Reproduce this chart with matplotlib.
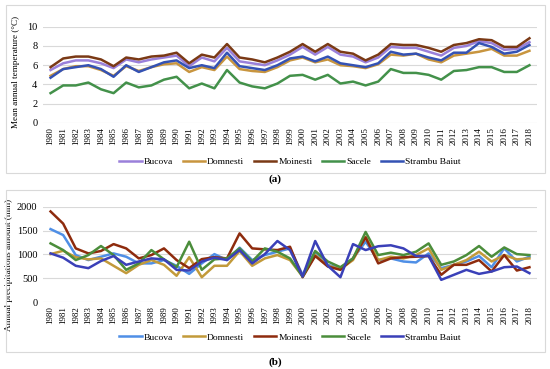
import matplotlib.pyplot as plt
from matplotlib.patches import Rectangle

# Dados
anos = list(range(1980, 2019))
estacoes = ['Bucova', 'Domnesti', 'Moinesti', 'Sacele', 'Strambu Baiut']

# Temperatura media anual (°C)
temp_bucova = [5.5, 6.2, 6.5, 6.5, 6.2, 5.7, 6.6, 6.3, 6.6, 6.8, 7.0, 5.9, 6.8, 6.4, 7.8, 6.4, 6.2, 6.0, 6.5, 7.1,
               7.9, 7.1, 7.9, 7.1, 6.9, 6.3, 6.8, 7.9, 7.8, 7.8, 7.4, 7.0, 7.8, 8.0, 8.5, 8.3, 7.6, 7.7, 8.4]
temp_domnesti = [4.9, 5.6, 5.9, 5.9, 5.5, 4.9, 5.9, 5.4, 5.8, 6.1, 6.2, 5.3, 5.8, 5.5, 6.9, 5.6, 5.4, 5.3, 5.8, 6.5,
                 6.8, 6.3, 6.6, 6.0, 5.9, 5.7, 6.1, 7.1, 7.0, 7.2, 6.6, 6.3, 7.0, 7.2, 7.4, 7.7, 7.0, 7.0, 7.5]
temp_moinesti = [5.8, 6.7, 6.9, 6.9, 6.6, 5.9, 6.8, 6.6, 6.9, 7.0, 7.3, 6.2, 7.1, 6.8, 8.2, 6.8, 6.6, 6.3, 6.8, 7.4,
                 8.2, 7.4, 8.2, 7.4, 7.2, 6.5, 7.1, 8.2, 8.1, 8.1, 7.8, 7.4, 8.1, 8.3, 8.7, 8.6, 7.9, 7.9, 8.8]
temp_sacele = [3.1, 3.9, 3.9, 4.2, 3.5, 3.1, 4.2, 3.7, 3.9, 4.5, 4.8, 3.6, 4.1, 3.6, 5.5, 4.2, 3.8, 3.6, 4.1, 4.9,
               5.0, 4.5, 5.0, 4.1, 4.3, 3.9, 4.3, 5.6, 5.2, 5.2, 5.0, 4.5, 5.4, 5.5, 5.8, 5.8, 5.3, 5.3, 6.0]
temp_strambu = [4.7, 5.6, 5.8, 6.0, 5.6, 4.8, 6.0, 5.3, 5.8, 6.3, 6.5, 5.7, 6.0, 5.7, 7.3, 5.9, 5.7, 5.5, 6.0, 6.7,
                6.9, 6.4, 6.9, 6.2, 6.0, 5.8, 6.2, 7.4, 7.1, 7.2, 6.8, 6.5, 7.3, 7.3, 8.3, 7.9, 7.2, 7.4, 8.1]

# Precipitacao anual (mm)
prec_bucova = [1530, 1405, 985, 880, 950, 1020, 950, 810, 810, 880, 760, 590, 810, 1005, 880, 1140, 880, 985, 1055, 1125,
               570, 1055, 780, 710, 915, 1265, 880, 915, 850, 830, 1020, 710, 780, 850, 965, 730, 1125, 850, 950]
prec_domnesti = [1005, 1075, 940, 895, 915, 760, 605, 780, 880, 780, 550, 940, 520, 760, 760, 1070, 760, 915, 985, 880,
                 535, 985, 760, 690, 880, 1370, 880, 950, 915, 985, 1125, 675, 780, 880, 1055, 850, 985, 895, 915]
prec_moinesti = [1900, 1645, 1125, 1020, 1070, 1215, 1125, 915, 985, 1125, 880, 710, 900, 940, 915, 1440, 1125, 1105, 1090, 1160,
                 520, 965, 745, 675, 915, 1355, 810, 915, 940, 950, 965, 570, 780, 780, 880, 640, 985, 660, 730]
prec_sacele = [1230, 1090, 880, 985, 1175, 985, 675, 810, 1090, 895, 730, 1265, 675, 895, 915, 1125, 850, 1125, 1055, 915,
               535, 1070, 850, 730, 915, 1470, 985, 1035, 985, 1055, 1230, 780, 850, 985, 1175, 950, 1145, 1005, 985]
prec_strambu = [1020, 930, 760, 710, 860, 965, 780, 850, 915, 895, 675, 660, 850, 930, 880, 1090, 810, 1005, 1280, 1090,
                535, 1280, 760, 520, 1215, 1090, 1170, 1190, 1125, 965, 965, 465, 570, 675, 590, 640, 730, 745, 605]

cores_a = ['#9a80da', '#c8953f', '#7a3915', '#43914a', '#3452b4']
cores_b = ['#4f8fe6', '#c29a3a', '#8e2b0d', '#4b8d3b', '#3a40b8']

plt.rcParams['font.family'] = ['Liberation Serif', 'DejaVu Serif']

fig = plt.figure(figsize=(5.5, 3.69), dpi=100)

# caixas de fundo dos graficos
for y0, h in [(1 - 173 / 369, 168 / 369), (1 - 352 / 369, 162 / 369)]:
    fig.patches.append(Rectangle((6 / 550, y0), 539 / 550, h, transform=fig.transFigure,
                                 fill=False, edgecolor='#d9d9d9', linewidth=0.8))


def painel(ax, series, cores, ylim, passo, ylabel, lab_xy, leg_y):
    for s, nome, c in zip(series, estacoes, cores):
        ax.plot(anos, s, color=c, lw=1.8, label=nome)
    ax.set_xlim(anos[0] - 0.6, anos[-1] + 0.6)
    ax.set_ylim(*ylim)
    ax.set_yticks(range(ylim[0], ylim[1] + 1, passo))
    ax.set_xticks(anos)
    ax.set_xticklabels([str(a) for a in anos], rotation=90, fontsize=6.5)
    ax.tick_params(axis='y', labelsize=7.5, length=0, pad=4)
    ax.tick_params(axis='x', length=0, pad=3)
    ax.grid(axis='y', color='#d9d9d9', lw=0.8)
    ax.set_axisbelow(True)
    for sp in ax.spines.values():
        sp.set_visible(False)
    ax.set_ylabel(ylabel, fontsize=6.6)
    ax.yaxis.set_label_coords(*lab_xy)
    ax.legend(loc='center', bbox_to_anchor=(0.5, leg_y), ncol=5, frameon=False, fontsize=6.8,
              handlelength=2.4, columnspacing=1.0, handletextpad=0.2)


ax1 = fig.add_axes([43 / 550, 1 - 123 / 369, 494 / 550, 96.3 / 369])
painel(ax1, [temp_bucova, temp_domnesti, temp_moinesti, temp_sacele, temp_strambu],
       cores_a, (0, 10), 2, 'Mean annual temperature (°C)', (-0.047, 0.53), -0.4)

ax2 = fig.add_axes([43 / 550, 1 - 302 / 369, 494 / 550, 95.3 / 369])
painel(ax2, [prec_bucova, prec_domnesti, prec_moinesti, prec_sacele, prec_strambu],
       cores_b, (0, 2000), 500, 'Annual precipitations amount (mm)', (-0.061, 0.39), -0.37)

fig.text(0.5, 1 - 179 / 369, '(a)', ha='center', va='center', fontsize=8, fontweight='bold')
fig.text(0.5, 1 - 362 / 369, '(b)', ha='center', va='center', fontsize=8, fontweight='bold')

fig.savefig('out.png', dpi=100)
